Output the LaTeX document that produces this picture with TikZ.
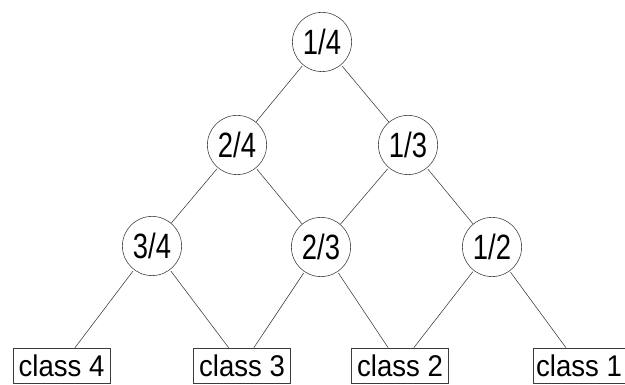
\documentclass[tikz,border=0pt]{standalone}
\usepackage{fontspec}
\setmainfont{Liberation Sans}
\newfontfamily\ratiofont[FakeStretch=0.78]{Liberation Sans}
\newfontfamily\classfont[FakeStretch=0.92]{Liberation Sans}
\begin{document}
\begin{tikzpicture}
    % Define colors
    \definecolor{linecolor}{RGB}{60, 60, 60}

    % Frame of the picture
    \useasboundingbox (0,0) rectangle (15.625, 9.625);

    \tikzset{
        ratio/.style={circle, draw=linecolor, thin, minimum size=1.48cm, inner sep=0pt, font=\ratiofont\fontsize{25}{25}\selectfont},
        classbox/.style={rectangle, draw=linecolor, thin, minimum width=2.425cm, minimum height=0.875cm, inner sep=1pt, font=\classfont\fontsize{21.3}{21.3}\selectfont},
        edge/.style={linecolor, thin, shorten <=1pt}
    }

    % Top row
    \node[ratio] (r14) at (8.05, 8.575) {1/4};

    % Second row
    \node[ratio] (r24) at (5.925, 6.0) {2/4};
    \node[ratio] (r13) at (10.2, 6.0) {1/3};

    % Third row
    \node[ratio] (r34) at (3.8, 3.475) {3/4};
    \node[ratio] (r23) at (8.025, 3.45) {2/3};
    \node[ratio] (r12) at (12.3, 3.45) {1/2};

    % Classes
    \node[classbox] (class4) at (1.5375, 0.4875) {class 4};
    \node[classbox] (class3) at (6.05, 0.4875) {class 3};
    \node[classbox] (class2) at (10.0, 0.4875) {class 2};
    \node[classbox, minimum width=2.3cm] (class1) at (14.475, 0.4875) {class 1};

    % Edges
    \draw[edge] (r14) -- (r24);
    \draw[edge] (r14) -- (r13);
    \draw[edge] (r24) -- (r34);
    \draw[edge] (r24) -- (r23);
    \draw[edge] (r13) -- (r23);
    \draw[edge] (r13) -- (r12);
    \draw[edge] (r34) -- (class4);
    \draw[edge] (r34) -- (class3);
    \draw[edge] (r23) -- (class3);
    \draw[edge] (r23) -- (class2);
    \draw[edge] (r12) -- (class2);
    \draw[edge] (r12) -- (class1);
\end{tikzpicture}
\end{document}
